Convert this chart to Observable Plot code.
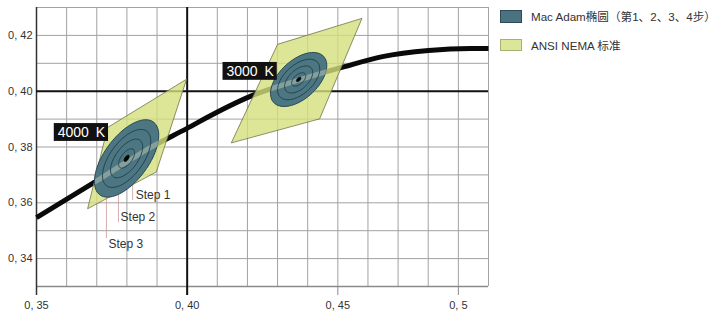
<!DOCTYPE html>
<html><head><meta charset="utf-8">
<script src="https://cdn.jsdelivr.net/npm/d3@7"></script>
<script src="https://cdn.jsdelivr.net/npm/@observablehq/plot@0.6"></script>
<style>
body{margin:0;background:#fff;overflow:hidden;}
#wrap{position:relative;width:720px;height:325px;overflow:hidden;font-family:"Liberation Sans",Arial,"Noto Sans CJK SC",sans-serif;}
.legend{position:absolute;left:500px;font-size:11.6px;color:#333;display:flex;align-items:center;white-space:nowrap;}
.sw{width:22px;height:13px;margin-right:9px;box-sizing:border-box;flex:none;}
</style></head><body><div id="wrap"></div>
<script>
// axis ticks and labels
const xTicks=[0.35,0.40,0.45,0.49];
const xTickLabels=["0, 35","0, 40","0, 45","0, 5"];
const yTicks=[0.34,0.36,0.38,0.40,0.42];
const yTickLabels=["0, 34","0, 36","0, 38","0, 40","0, 42"];
const xGrid=[0.36,0.37,0.38,0.39,0.41,0.42,0.43,0.44,0.45,0.46,0.47,0.48,0.49,0.50];
const yGrid=[0.34,0.35,0.36,0.37,0.38,0.39,0.41,0.42,0.43];
// black-body locus
const locusX=[0.3500,0.3712,0.3878,0.3998,0.4094,0.4217,0.4370,0.4516,0.4648,0.4801,0.4940,0.5000];
const locusY=[0.3547,0.3687,0.3798,0.3866,0.3922,0.3985,0.4040,0.4086,0.4124,0.4146,0.4153,0.4153];
// CCT regions
const cctNames=["4000\u2002K","3000\u2002K"];
const cctLabelX=[0.3649,0.4209];
const cctLabelY=[0.3852,0.4071];
const quadX=[[0.3670,0.3736,0.3998,0.3898],[0.4147,0.4300,0.4580,0.4440]];
const quadY=[[0.3580,0.3870,0.4043,0.3712],[0.3816,0.4168,0.4261,0.3902]];
// MacAdam ellipses (1-step semi-axes, angle in degrees)
const ellCx=[0.3799,0.4370];
const ellCy=[0.3759,0.4042];
const ellA1=[0.00395,0.00293];
const ellB1=[0.00188,0.00165];
const ellTheta=[57,47];
const ringSteps=[3,2,1];
const outerStep=4;
const dotStep=0.33;
// step annotations
const stepNames=["Step 1","Step 2","Step 3"];
const stepTextX=[0.3829,0.3779,0.3739];
const stepTextY=[0.3626,0.3547,0.3451];
const stepLineX=[0.3819,0.3772,0.3732];
const stepLineY1=[0.3669,0.3644,0.3619];
const stepLineY2=[0.3608,0.3529,0.3472];

const locus=locusX.map((x,i)=>({x,y:locusY[i]}));
const quads=quadX.flatMap((xs,q)=>xs.map((x,k)=>({id:q,x,y:quadY[q][k]})));
function ellipse(i,s,id){
  const th=ellTheta[i]*Math.PI/180,a=ellA1[i]*s,b=ellB1[i]*s,pts=[];
  for(let k=0;k<90;k++){const t=k*2*Math.PI/90;
    pts.push({id,x:ellCx[i]+a*Math.cos(t)*Math.cos(th)-b*Math.sin(t)*Math.sin(th),
                 y:ellCy[i]+a*Math.cos(t)*Math.sin(th)+b*Math.sin(t)*Math.cos(th)});}
  return pts;
}
const outer=[0,1].flatMap(i=>ellipse(i,outerStep,"o"+i));
const rings=[0,1].flatMap(i=>ringSteps.flatMap(s=>ellipse(i,s,"r"+i+"_"+s)));
const dots=[0,1].flatMap(i=>ellipse(i,dotStep,"d"+i));
const idx3=[0,1,2], idx2=[0,1];
// label box half-size in data units (box ~54x18 px)
const boxHalfW=0.0090, boxHalfH=0.0032;

const chart=Plot.plot({
  width:720,height:325,marginLeft:36,marginRight:232,marginTop:7,marginBottom:39,
  x:{domain:[0.35,0.50],label:null},y:{domain:[0.33,0.43],label:null},
  style:{fontFamily:'"Liberation Sans",Arial,sans-serif',fontSize:"11px",color:"#333",background:"white"},
  marks:[
    Plot.ruleX(xGrid,{y1:0.33,y2:0.43,stroke:"#a2a2a2",strokeWidth:1}),
    Plot.ruleY(yGrid,{x1:0.35,x2:0.50,stroke:"#a2a2a2",strokeWidth:1}),
    Plot.axisX(xTicks,{tickSize:9,stroke:"#8a8a8a",tickPadding:6,fontSize:11,label:null,
      tickFormat:d=>xTickLabels[xTicks.indexOf(d)]}),
    Plot.axisY(yTicks,{tickSize:0,tickPadding:4,fontSize:11,label:null,
      tickFormat:d=>yTickLabels[yTicks.indexOf(d)]}),
    Plot.ruleY([0.33],{x1:0.35,x2:0.50,stroke:"#8a8a8a",strokeWidth:1.5}),
    Plot.ruleX([0.35],{y1:0.3268,y2:0.43,stroke:"#333",strokeWidth:1.5}),
    Plot.ruleX([0.40],{y1:0.3268,y2:0.43,stroke:"#111",strokeWidth:2}),
    Plot.ruleY([0.40],{x1:0.35,x2:0.50,stroke:"#111",strokeWidth:2}),
    Plot.ruleX(idx3,{x:i=>stepLineX[i],y1:i=>stepLineY1[i],y2:i=>stepLineY2[i],stroke:"#c99a9a",strokeWidth:0.8}),
    Plot.line(locus,{x:"x",y:"y",curve:"monotone-x",stroke:"#0a0a0a",strokeWidth:5,strokeLinecap:"butt"}),
    Plot.line(quads,{x:"x",y:"y",z:"id",curve:"linear-closed",fill:"#d4e07c",fillOpacity:0.8,stroke:"#6f7343",strokeWidth:0.8}),
    Plot.line(outer,{x:"x",y:"y",z:"id",curve:"linear-closed",fill:"#4b7682",stroke:"#2a4652",strokeWidth:1}),
    Plot.line(locus,{x:"x",y:"y",curve:"monotone-x",stroke:"#d6dcc0",strokeOpacity:0.42,strokeWidth:5,strokeLinecap:"butt"}),
    Plot.line(rings,{x:"x",y:"y",z:"id",curve:"linear-closed",stroke:"#1f3c48",strokeWidth:0.9}),
    Plot.line(dots,{x:"x",y:"y",z:"id",curve:"linear-closed",fill:"#050505",stroke:"#050505",strokeWidth:0.5}),
    Plot.text(idx3,{x:i=>stepTextX[i],y:i=>stepTextY[i],text:i=>stepNames[i],textAnchor:"start",fontSize:12,fill:"#333"}),
    Plot.rect(idx2,{x1:i=>cctLabelX[i]-boxHalfW,x2:i=>cctLabelX[i]+boxHalfW,y1:i=>cctLabelY[i]-boxHalfH,y2:i=>cctLabelY[i]+boxHalfH,fill:"#111"}),
    Plot.text(idx2,{x:i=>cctLabelX[i],y:i=>cctLabelY[i],text:i=>cctNames[i],fill:"white",fontSize:14})
  ]
});
const wrap=document.getElementById("wrap");
wrap.appendChild(chart);
// clip the light band of the locus to the ellipses
const ns="http://www.w3.org/2000/svg";
const eg=chart.querySelector('g[fill="#4b7682"]');
const bandG=chart.querySelector('g[stroke="#d6dcc0"]');
if(eg&&bandG){
  const defs=document.createElementNS(ns,"defs");
  const cp=document.createElementNS(ns,"clipPath");cp.setAttribute("id","ellclip");
  eg.querySelectorAll("path").forEach(p=>{const c=p.cloneNode();
    const tr=p.getAttribute("transform")||eg.getAttribute("transform");if(tr)c.setAttribute("transform",tr);cp.appendChild(c);});
  defs.appendChild(cp);chart.insertBefore(defs,chart.firstChild);
  bandG.setAttribute("clip-path","url(#ellclip)");
} else if(bandG){ bandG.remove(); }
// legend
const l1=document.createElement("div");l1.className="legend";l1.style.top="8px";
l1.innerHTML='<div class="sw" style="background:#4b7280;border:1px solid #2d4a55"></div><span>Mac Adam椭圆（第1、2、3、4步）</span>';
const l2=document.createElement("div");l2.className="legend";l2.style.top="37px";
l2.innerHTML='<div class="sw" style="background:#dce69a;border:1px solid #a9b172;height:12px"></div><span>ANSI NEMA 标准</span>';
wrap.appendChild(l1);wrap.appendChild(l2);
</script></body></html>
